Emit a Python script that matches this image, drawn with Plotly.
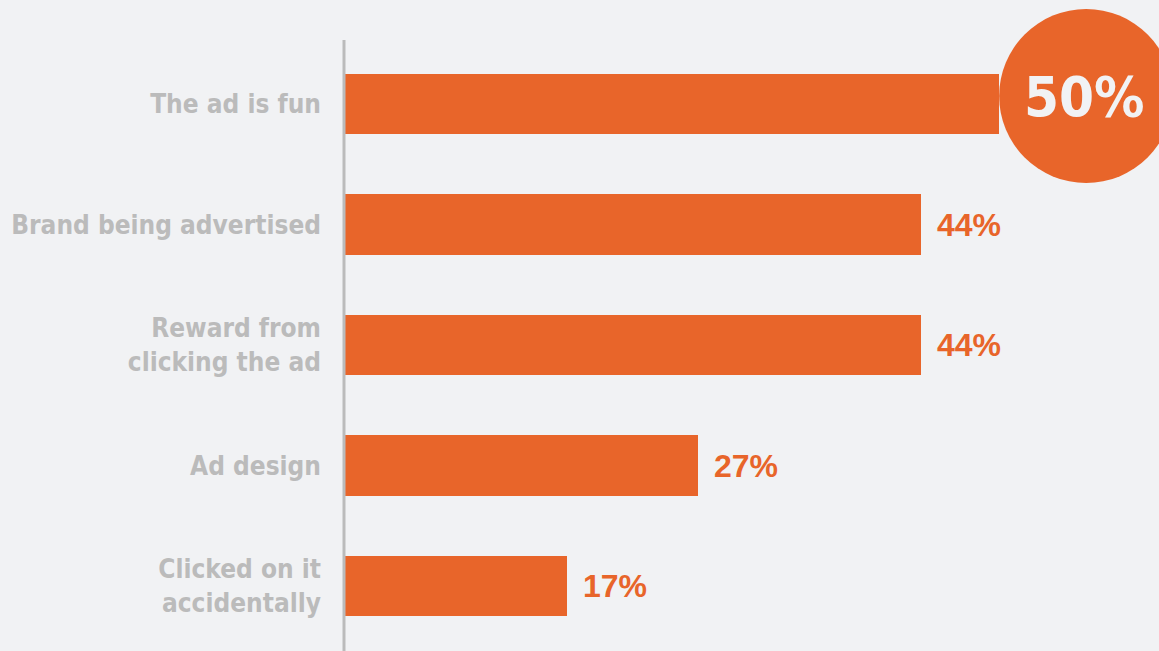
import plotly.graph_objects as go

categories = ["The ad is fun", "Brand being advertised", "Reward from<br>clicking the ad",
              "Ad design", "Clicked on it<br>accidentally"]
values = [50, 44, 44, 27, 17]
value_labels = ["50%", "44%", "44%", "27%", "17%"]

ORANGE = "#E8652A"
BG = "#F1F2F4"
GRAY = "#BBBBBB"
COND = "Liberation Sans Narrow, DejaVu Sans Condensed, Arial Narrow, sans-serif"

fig = go.Figure()
fig.add_trace(go.Bar(
    x=values, y=list(range(len(categories))), orientation="h",
    marker=dict(color=ORANGE, line=dict(width=0)), width=0.5,
    hoverinfo="skip",
))

imax = values.index(max(values))
R = 87
# highlight circle attached to the end of the largest bar
fig.add_shape(type="circle", xref="x", yref="y", xsizemode="pixel", ysizemode="pixel",
              xanchor=values[imax], yanchor=imax, x0=0, x1=2 * R, y0=8 - R, y1=8 + R,
              fillcolor=ORANGE, line=dict(width=0), layer="above")
fig.add_annotation(x=values[imax], y=imax, text=value_labels[imax], showarrow=False,
                   xanchor="center", yanchor="middle", xshift=R - 2, yshift=8,
                   font=dict(family=COND, size=56, color=BG, weight="bold"))

for i, (v, t) in enumerate(zip(values, value_labels)):
    if i == imax:
        continue
    fig.add_annotation(x=v, y=i, text=t, showarrow=False, xanchor="left", yanchor="middle",
                       xshift=14, font=dict(family="Liberation Sans", size=32, color=ORANGE,
                                            weight="bold"))

# vertical axis line
fig.add_shape(type="line", xref="paper", yref="paper", x0=0, x1=0, y0=0, y1=(651 - 40) / 651,
              line=dict(color=GRAY, width=3), layer="above")

fig.update_layout(
    width=1159, height=651, paper_bgcolor=BG, plot_bgcolor=BG,
    margin=dict(l=344, r=0, t=0, b=0), showlegend=False, bargap=0,
    xaxis=dict(range=[0, 62.2], visible=False, fixedrange=True),
    yaxis=dict(range=[4.539, -0.863], tickmode="array", tickvals=list(range(len(categories))),
               ticktext=categories, showgrid=False, zeroline=False, showline=False,
               ticks="", ticklabelstandoff=22, automargin=False,
               tickfont=dict(family=COND, size=26, color=GRAY, weight="bold")),
)

fig.write_html("out.html")
